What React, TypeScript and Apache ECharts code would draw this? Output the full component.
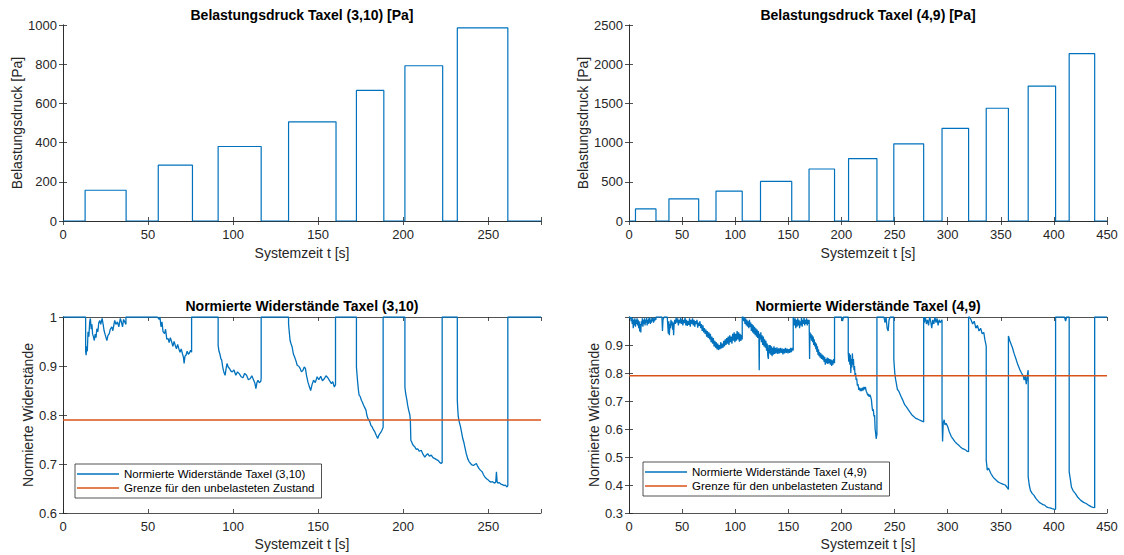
import React, { useEffect, useRef } from "react";
import * as echarts from "echarts";

// ---- Data ----
const pressure310Start = [13.0, 56.0, 91.2, 132.6, 172.5, 201.0, 231.8];
const pressure310End = [37.1, 76.1, 116.5, 160.5, 188.6, 223.2, 261.5];
const pressure310Value = [157, 285, 380, 506, 666, 792, 985];

const pressure49Start = [6.1, 37.6, 81.9, 123.8, 169.5, 206.7, 249.3, 294.7, 336.3, 375.8, 414.4];
const pressure49End = [25.4, 65.6, 106.6, 153.2, 193.5, 233.4, 277.4, 319.7, 357.2, 401.6, 438.4];
const pressure49Value = [154, 283, 381, 505, 663, 796, 985, 1182, 1438, 1721, 2136];

const threshold = 0.79;

const resist310: number[][] = [
  [0, 1],
  [13.3, 1], [13.3, 0.93], [13.6, 0.922], [13.9, 0.94], [14.3, 0.93], [14.7, 0.97], [15.2, 0.96], [15.7, 0.99], [16.1, 0.997], [16.6, 0.975], [17.0, 0.985], [17.4, 0.965], [17.9, 0.96], [18.4, 0.952], [18.9, 0.965], [19.4, 0.958], [19.9, 0.976], [20.5, 0.97], [21.0, 0.988], [21.6, 0.993], [22.2, 0.985], [23.0, 0.997], [23.6, 0.985], [24.1, 0.973], [24.7, 0.965], [25.3, 0.958], [25.8, 0.952], [26.4, 0.962], [27.2, 0.966], [27.8, 0.975], [28.7, 0.98], [29.3, 0.972], [30.4, 0.993], [31.1, 0.985], [32.0, 0.99], [32.8, 0.98], [33.7, 0.997], [34.3, 0.99], [35.0, 0.98], [35.6, 0.995], [36.3, 0.99], [37.0, 0.985], [37.0, 1],
  [55.5, 1], [56.5, 0.995], [57.0, 1], [57.6, 0.98], [58.2, 0.99], [58.8, 0.97], [59.7, 0.966], [60.3, 0.975], [61.0, 0.955], [61.8, 0.956], [62.4, 0.948], [63.1, 0.958], [63.9, 0.949], [64.6, 0.94], [65.3, 0.95], [66.0, 0.942], [66.7, 0.935], [67.4, 0.944], [68.1, 0.935], [68.8, 0.928], [69.5, 0.935], [70.2, 0.925], [70.8, 0.918], [71.2, 0.905], [71.7, 0.92], [72.3, 0.922], [73.0, 0.93], [73.7, 0.924], [74.4, 0.927], [75.0, 0.932], [75.6, 0.928], [75.6, 1],
  [91.2, 1], [91.2, 0.942], [91.7, 0.93], [92.2, 0.925], [92.8, 0.915], [93.3, 0.912], [93.8, 0.9], [94.3, 0.891], [94.8, 0.885], [95.3, 0.881], [95.9, 0.895], [96.4, 0.905], [97.1, 0.898], [97.9, 0.895], [98.6, 0.89], [99.5, 0.888], [100.5, 0.892], [101.6, 0.881], [102.6, 0.888], [103.7, 0.884], [104.7, 0.878], [105.8, 0.876], [106.8, 0.885], [107.9, 0.881], [109.0, 0.872], [110.0, 0.874], [111.0, 0.88], [112.1, 0.871], [112.8, 0.865], [113.4, 0.854], [114.0, 0.866], [114.6, 0.871], [115.4, 0.866], [116.3, 0.869], [116.5, 0.875], [116.5, 1],
  [132.6, 1], [132.6, 0.986], [133.0, 0.97], [133.5, 0.952], [134.1, 0.945], [134.7, 0.939], [135.4, 0.925], [136.2, 0.918], [137.0, 0.91], [137.7, 0.901], [138.5, 0.9], [139.4, 0.895], [140.2, 0.888], [141.0, 0.891], [141.8, 0.898], [142.5, 0.895], [143.2, 0.88], [144.0, 0.867], [144.8, 0.858], [145.6, 0.85], [146.4, 0.862], [147.3, 0.871], [148.3, 0.866], [149.4, 0.878], [150.4, 0.872], [151.5, 0.879], [152.5, 0.87], [153.6, 0.874], [154.6, 0.88], [155.7, 0.876], [156.7, 0.87], [157.8, 0.864], [158.6, 0.868], [159.5, 0.857], [160.2, 0.862], [160.2, 1],
  [172.5, 1], [172.5, 0.898], [172.9, 0.88], [173.3, 0.864], [173.7, 0.85], [174.1, 0.84], [174.7, 0.838], [175.4, 0.83], [176.0, 0.826], [176.7, 0.82], [177.4, 0.815], [178.1, 0.81], [178.6, 0.8], [179.2, 0.793], [179.8, 0.79], [180.4, 0.786], [181.0, 0.779], [181.7, 0.776], [182.5, 0.77], [183.4, 0.765], [184.2, 0.758], [185.0, 0.752], [185.6, 0.758], [186.3, 0.762], [186.9, 0.765], [187.5, 0.769], [188.2, 0.775], [188.2, 1],
  [201.0, 1], [201.0, 0.857], [201.4, 0.845], [201.8, 0.837], [202.2, 0.83], [202.6, 0.82], [203.2, 0.81], [203.9, 0.8], [204.2, 0.79], [204.5, 0.748], [205.0, 0.745], [205.4, 0.741], [206.1, 0.737], [206.8, 0.735], [207.6, 0.73], [208.5, 0.731], [209.5, 0.726], [210.6, 0.728], [211.6, 0.72], [212.7, 0.714], [213.5, 0.718], [214.4, 0.721], [215.4, 0.716], [216.5, 0.718], [217.5, 0.713], [218.6, 0.711], [219.6, 0.709], [220.7, 0.707], [221.5, 0.703], [222.3, 0.701], [222.9, 0.703], [222.9, 1],
  [231.8, 1], [231.8, 0.83], [232.1, 0.81], [232.4, 0.796], [233.0, 0.785], [233.7, 0.776], [234.3, 0.765], [235.0, 0.752], [235.6, 0.745], [236.2, 0.735], [237.0, 0.722], [237.9, 0.711], [238.7, 0.705], [239.6, 0.701], [240.4, 0.698], [241.3, 0.697], [242.1, 0.699], [243.0, 0.701], [243.8, 0.695], [244.7, 0.69], [245.5, 0.687], [246.4, 0.684], [247.2, 0.678], [248.1, 0.673], [249.0, 0.67], [249.8, 0.668], [250.6, 0.665], [251.5, 0.663], [252.5, 0.664], [253.6, 0.661], [254.4, 0.663], [254.8, 0.684], [255.2, 0.664], [255.7, 0.661], [256.5, 0.662], [257.4, 0.659], [258.3, 0.658], [259.2, 0.656], [260.1, 0.657], [261.0, 0.653], [261.5, 0.656], [261.5, 1],
  [281, 1],
];

const resist49: number[][] = [
  [0, 1], [1, 0.995], [1.5, 1], [2, 0.985], [2.5, 1], [3, 0.975], [3.5, 0.995], [4, 0.96], [4.5, 0.99], [5, 0.97], [5.5, 0.995], [6.1, 0.965], [6.6, 0.99], [7.1, 0.975], [7.6, 0.995], [8.1, 0.97], [8.6, 0.99], [9.1, 0.96], [9.6, 0.985], [10.1, 0.948], [10.6, 0.975], [11.1, 0.945], [11.6, 0.985], [12.1, 0.97], [12.6, 0.995], [13.1, 0.965], [13.6, 0.99], [14.1, 0.975], [14.6, 0.995], [15.1, 0.97], [15.6, 0.99], [16.1, 0.98], [16.6, 0.998], [17.1, 0.97], [17.6, 0.99], [18.1, 0.975], [18.6, 0.995], [19.1, 0.98], [19.6, 0.998], [20.1, 0.975], [20.6, 0.99], [21.1, 0.98], [21.6, 0.998], [22.1, 0.985], [22.6, 0.998], [23.1, 0.98], [23.6, 0.995], [24.1, 0.985], [24.6, 0.998], [25.4, 0.99], [25.4, 1],
  [31, 1], [31.5, 0.95], [32, 0.99], [33, 1], [36, 1], [36.5, 0.97], [37, 0.94], [37.5, 0.985], [38, 0.935], [38.5, 0.975], [39, 0.96], [39.5, 0.99], [40, 0.97], [40.5, 0.985], [41, 0.955], [41.5, 0.98], [42, 0.935], [42.5, 0.975], [43, 0.99], [43.7, 0.975], [44.4, 0.998], [45.1, 0.98], [45.8, 0.995], [46.5, 0.97], [47.2, 0.99], [47.9, 0.978], [48.6, 0.998], [49.3, 0.975], [50, 0.992], [50.7, 0.97], [51.4, 0.99], [52.1, 0.978], [52.8, 0.998], [53.5, 0.97], [54.2, 0.99], [54.9, 0.968], [55.6, 0.985], [56.3, 0.972], [57, 0.995], [57.7, 0.965], [58.4, 0.99], [59.1, 0.975], [59.8, 0.995], [60.5, 0.97], [61.2, 0.99], [61.9, 0.965], [62.6, 0.985], [63.3, 0.975], [64, 0.99], [64.7, 0.962], [65.4, 0.98], [66.1, 0.968], [66.8, 0.985], [67.5, 0.96], [68.2, 0.975], [68.9, 0.95], [69.6, 0.97], [70.3, 0.945], [71, 0.96], [71.7, 0.94], [72.4, 0.955], [73.1, 0.93], [73.8, 0.95], [74.5, 0.925], [75.2, 0.945], [75.9, 0.92], [76.6, 0.94], [77.3, 0.91], [78, 0.93], [78.7, 0.905], [79.4, 0.925], [80.1, 0.895], [80.8, 0.915], [81.5, 0.89], [82.2, 0.91], [82.9, 0.884], [83.6, 0.905], [84.3, 0.882], [85, 0.9], [85.7, 0.885], [86.4, 0.91], [87.1, 0.888], [87.8, 0.905], [88.5, 0.89], [89.2, 0.915], [89.9, 0.895], [90.6, 0.92], [91.3, 0.9], [92, 0.925], [92.7, 0.905], [93.4, 0.93], [94.1, 0.9], [94.8, 0.935], [95.5, 0.91], [96.2, 0.93], [96.9, 0.905], [97.6, 0.94], [98.3, 0.915], [99, 0.945], [99.7, 0.91], [100.4, 0.94], [101.1, 0.915], [101.8, 0.95], [102.5, 0.92], [103.2, 0.945], [103.9, 0.912], [104.6, 0.94], [105.3, 0.915], [106, 0.935], [106.6, 0.92], [106.6, 1],
  [107.5, 1], [108, 0.985], [108.6, 1], [109.2, 0.975], [109.8, 0.995], [110.4, 0.97], [111, 0.99], [111.6, 0.965], [112.2, 0.985], [112.8, 0.96], [113.4, 0.99], [114, 0.965], [114.6, 0.98], [115.2, 0.95], [115.8, 0.975], [116.4, 0.945], [117, 0.97], [117.6, 0.94], [118.2, 0.965], [118.8, 0.935], [119.4, 0.96], [120, 0.93], [120.6, 0.955], [121.2, 0.925], [121.8, 0.95], [122.3, 0.93], [122.6, 0.81], [122.9, 0.94], [123.5, 0.92], [124.1, 0.945], [124.7, 0.91], [125.3, 0.935], [125.9, 0.9], [126.5, 0.93], [127.1, 0.895], [127.7, 0.92], [128.3, 0.89], [128.9, 0.915], [129.5, 0.88], [130.1, 0.905], [130.7, 0.86], [131.2, 0.85], [131.7, 0.9], [132.3, 0.87], [132.9, 0.9], [133.5, 0.865], [134.1, 0.895], [134.7, 0.86], [135.3, 0.89], [135.9, 0.865], [136.5, 0.895], [137.1, 0.868], [137.7, 0.89], [138.5, 0.87], [139.3, 0.892], [140.1, 0.868], [140.9, 0.888], [141.7, 0.87], [142.5, 0.89], [143.3, 0.872], [144.1, 0.888], [144.9, 0.866], [145.7, 0.886], [146.5, 0.87], [147.3, 0.89], [148.1, 0.872], [148.9, 0.887], [149.7, 0.87], [150.5, 0.885], [151.3, 0.872], [152.1, 0.89], [152.9, 0.875], [153.7, 0.89], [154.6, 0.88], [154.6, 1],
  [155.2, 0.99], [155.8, 0.97], [156.4, 0.995], [157, 0.96], [157.6, 0.99], [158.2, 0.965], [158.8, 0.995], [159.4, 0.97], [160, 0.99], [160.6, 0.96], [161.2, 0.985], [161.8, 0.97], [162.4, 0.998], [163, 0.965], [163.6, 0.99], [164.2, 0.975], [164.8, 0.998], [165.4, 0.97], [166, 0.99], [166.6, 0.975], [167.2, 0.995], [167.8, 0.97], [168.4, 0.99], [169, 0.975], [169.6, 0.99], [170, 0.85], [170.4, 0.945], [170.9, 0.925], [171.4, 0.94], [171.9, 0.915], [172.4, 0.935], [172.9, 0.91], [173.4, 0.93], [173.9, 0.9], [174.4, 0.92], [174.9, 0.895], [175.4, 0.91], [175.9, 0.885], [176.4, 0.905], [176.9, 0.875], [177.4, 0.895], [177.9, 0.865], [178.4, 0.885], [178.9, 0.86], [179.4, 0.875], [180, 0.855], [180.6, 0.87], [181.2, 0.85], [181.8, 0.866], [182.4, 0.848], [183, 0.862], [183.6, 0.84], [184.2, 0.858], [184.8, 0.83], [185.4, 0.85], [186, 0.835], [186.6, 0.855], [187.2, 0.832], [187.8, 0.852], [188.4, 0.835], [189, 0.85], [189.6, 0.83], [190.2, 0.848], [190.8, 0.825], [191.4, 0.845], [192, 0.83], [192.6, 0.85], [193.5, 0.835], [193.5, 1],
  [200, 1], [201, 0.985], [202, 1], [206.4, 1], [206.4, 0.872], [206.9, 0.84], [207.4, 0.87], [207.9, 0.83], [208.4, 0.865], [208.8, 0.8], [209.3, 0.85], [209.8, 0.82], [210.3, 0.87], [210.8, 0.83], [211.3, 0.85], [211.8, 0.81], [212.3, 0.825], [212.8, 0.79], [213.3, 0.8], [213.8, 0.775], [214.4, 0.78], [215, 0.755], [215.6, 0.76], [216.3, 0.74], [217, 0.748], [217.7, 0.735], [218.4, 0.745], [219.1, 0.735], [219.8, 0.748], [220.5, 0.738], [221.2, 0.75], [221.9, 0.742], [222.6, 0.75], [223.3, 0.735], [224, 0.73], [224.7, 0.72], [225.4, 0.725], [226.1, 0.715], [226.8, 0.722], [227.5, 0.715], [228.2, 0.705], [228.8, 0.68], [229.4, 0.665], [230, 0.67], [230.6, 0.645], [231.2, 0.65], [231.7, 0.6], [232.2, 0.585], [232.7, 0.565], [233.1, 0.575], [233.4, 0.58], [233.4, 1],
  [240, 1], [241, 0.98], [242, 1], [243, 0.96], [244, 0.95], [244.8, 0.99], [246, 1], [249.3, 1], [249.3, 0.849], [250.2, 0.8], [251, 0.777], [251.8, 0.76], [252.7, 0.741], [254, 0.735], [256, 0.717], [257.5, 0.705], [259.5, 0.687], [261, 0.68], [262.9, 0.669], [264.5, 0.66], [266.2, 0.651], [268, 0.645], [269.6, 0.639], [271.3, 0.636], [273, 0.633], [274.7, 0.63], [276.4, 0.627], [277.4, 0.625], [277.4, 1],
  [278, 0.98], [279, 1], [280, 0.975], [281, 0.99], [282, 0.97], [283, 1], [284, 0.985], [285, 0.96], [286, 0.99], [287, 0.975], [288, 1], [289, 0.98], [290, 0.995], [291, 0.97], [292, 0.99], [293, 0.98], [294.7, 0.99], [294.7, 0.645], [295.2, 0.555], [295.8, 0.62], [296.7, 0.633], [297.5, 0.615], [298.5, 0.62], [300, 0.609], [301.5, 0.59], [303.4, 0.573], [305, 0.565], [306.8, 0.555], [308.5, 0.548], [310.2, 0.543], [312, 0.536], [313.6, 0.531], [315.3, 0.528], [317, 0.525], [318.5, 0.52], [319.7, 0.519], [319.7, 1],
  [320.5, 1], [322, 0.99], [323.5, 0.975], [325, 0.985], [326.5, 0.96], [328, 0.97], [329.5, 0.95], [331, 0.96], [332.5, 0.94], [334, 0.945], [335, 0.92], [336.3, 0.896], [336.3, 0.489], [337.3, 0.453], [338.5, 0.46], [340.7, 0.441], [342.5, 0.43], [344, 0.423], [345.5, 0.418], [347.4, 0.411], [349, 0.408], [350.8, 0.405], [352.5, 0.402], [354.2, 0.4], [355.8, 0.392], [357.2, 0.384], [357.2, 0.932], [358.5, 0.915], [360, 0.9], [361, 0.89], [362.5, 0.87], [364.4, 0.849], [366, 0.83], [367.8, 0.813], [369.5, 0.8], [371.2, 0.789], [372, 0.775], [373, 0.79], [374, 0.76], [374.5, 0.777], [375.3, 0.8], [375.8, 0.81], [375.8, 0.429], [376.8, 0.4], [377.9, 0.381], [379.5, 0.37], [381.3, 0.363], [383, 0.352], [384.6, 0.345], [386.3, 0.338], [388, 0.334], [389.7, 0.33], [391.4, 0.328], [393, 0.322], [394.8, 0.319], [396.5, 0.318], [398.2, 0.316], [400, 0.314], [401.6, 0.313], [401.6, 1],
  [410, 1], [411, 0.985], [412, 1], [414.4, 1], [414.4, 0.447], [415.5, 0.42], [416.5, 0.393], [418, 0.38], [420.3, 0.369], [422.5, 0.356], [425.3, 0.345], [428, 0.338], [430.4, 0.334], [433, 0.327], [435.4, 0.322], [437, 0.32], [438.4, 0.319], [438.4, 1], [450, 1],
];

const titles = [
  "Belastungsdruck Taxel (3,10) [Pa]",
  "Belastungsdruck Taxel (4,9) [Pa]",
  "Normierte Widerstände Taxel (3,10)",
  "Normierte Widerstände Taxel (4,9)",
];
const xName = "Systemzeit t [s]";
const yNames = ["Belastungsdruck [Pa]", "Belastungsdruck [Pa]", "Normierte Widerstände", "Normierte Widerstände"];
const seriesNames = ["Normierte Widerstände Taxel (3,10)", "Normierte Widerstände Taxel (4,9)", "Grenze für den unbelasteten Zustand"];

// ---- Helpers ----
function stepPoints(starts: number[], ends: number[], vals: number[], xmax: number) {
  const pts: number[][] = [[0, 0]];
  for (let i = 0; i < starts.length; i++) {
    pts.push([starts[i], 0], [starts[i], vals[i]], [ends[i], vals[i]], [ends[i], 0]);
  }
  pts.push([xmax, 0]);
  return pts;
}

const BLUE = "#0072BD";
const ORANGE = "#D95319";
const AX = "#262626";
const FONT = "'Liberation Sans', Arial, Helvetica, sans-serif";

export default function App() {
  const ref = useRef<HTMLDivElement>(null);
  useEffect(() => {
    if (!ref.current) return;
    const chart = echarts.init(ref.current, undefined, { renderer: "svg" });

    const grids = [
      { left: 63, top: 25, width: 478, height: 196 },
      { left: 629, top: 25, width: 478, height: 196 },
      { left: 63, top: 317, width: 478, height: 196 },
      { left: 629, top: 317, width: 478, height: 196 },
    ];
    const xCfg = [{ max: 281 }, { max: 450 }, { max: 281 }, { max: 450 }];
    const xGap = [25, 25, 24, 24];
    const yCfg = [
      { min: 0, max: 1000, interval: 200, fmt: (v: number) => String(v), gap: 38 },
      { min: 0, max: 2500, interval: 500, fmt: (v: number) => String(v), gap: 37 },
      { min: 0.6, max: 1, interval: 0.1, fmt: (v: number) => (Math.abs(v - 1) < 1e-6 ? "1" : v.toFixed(1)), gap: 26 },
      { min: 0.3, max: 1, interval: 0.1, fmt: (v: number) => (v > 0.999 ? "" : v.toFixed(1)), gap: 25 },
    ];

    const axisLine = { show: true, lineStyle: { color: AX, width: 0.8 } };
    const axisTick = { show: true, inside: true, length: 4, lineStyle: { color: AX, width: 0.8 } };

    const xAxis: any[] = [];
    const yAxis: any[] = [];
    grids.forEach((_, i) => {
      xAxis.push({
        type: "value", gridIndex: i, position: "bottom", min: 0, max: xCfg[i].max, interval: 50,
        axisLine, axisTick, splitLine: { show: false },
        axisLabel: { color: AX, fontSize: 13, fontFamily: FONT, margin: 7, formatter: (v: number) => (v % 50 === 0 ? String(v) : "") },
        name: xName, nameLocation: "middle", nameGap: xGap[i],
        nameTextStyle: { color: AX, fontSize: 14, fontFamily: FONT },
      });
      xAxis.push({
        type: "value", gridIndex: i, position: "top", min: 0, max: xCfg[i].max, interval: 50,
        axisLine, axisTick, splitLine: { show: false }, axisLabel: { show: false },
      });
      yAxis.push({
        type: "value", gridIndex: i, position: "left", min: yCfg[i].min, max: yCfg[i].max, interval: yCfg[i].interval,
        axisLine, axisTick, splitLine: { show: false },
        axisLabel: { color: AX, fontSize: 13, fontFamily: FONT, margin: 6, formatter: yCfg[i].fmt },
        name: yNames[i], nameLocation: "middle", nameGap: yCfg[i].gap,
        nameTextStyle: { color: AX, fontSize: 14, fontFamily: FONT },
      });
      yAxis.push({
        type: "value", gridIndex: i, position: "right", min: yCfg[i].min, max: yCfg[i].max, interval: yCfg[i].interval,
        axisLine, axisTick, splitLine: { show: false }, axisLabel: { show: false },
      });
    });

    const titleCenters = [
      { x: 302, y: 8 },
      { x: 868, y: 8 },
      { x: 302, y: 299 },
      { x: 868, y: 299 },
    ];

    const legendCommon = {
      orient: "vertical",
      backgroundColor: "#ffffff",
      borderColor: AX,
      borderWidth: 0.8,
      borderRadius: 0,
      padding: [4, 7, 4, 2],
      itemGap: 2,
      itemWidth: 42,
      itemHeight: 1.5,
      icon: "rect",
      textStyle: { color: "#000", fontSize: 11.5, fontFamily: FONT },
      selectedMode: false,
    };

    const option: any = {
      animation: false,
      backgroundColor: "#ffffff",
      textStyle: { fontFamily: FONT },
      title: titles.map((t, i) => ({
        text: t,
        left: titleCenters[i].x,
        top: titleCenters[i].y,
        textAlign: "center",
        padding: 0,
        textStyle: { color: "#000", fontSize: 14, fontWeight: "bold", fontFamily: FONT },
      })),
      grid: grids,
      xAxis,
      yAxis,
      legend: [
        { ...legendCommon, left: 75, top: 464, data: [seriesNames[0], seriesNames[2]] },
        { ...legendCommon, left: 643, top: 462, data: [seriesNames[1], seriesNames[2]] },
      ],
      series: [
        {
          type: "line", xAxisIndex: 0, yAxisIndex: 0, name: "p310",
          data: stepPoints(pressure310Start, pressure310End, pressure310Value, 281),
          symbol: "none", lineStyle: { color: BLUE, width: 1.2 }, itemStyle: { color: BLUE },
        },
        {
          type: "line", xAxisIndex: 2, yAxisIndex: 2, name: "p49",
          data: stepPoints(pressure49Start, pressure49End, pressure49Value, 450),
          symbol: "none", lineStyle: { color: BLUE, width: 1.2 }, itemStyle: { color: BLUE },
        },
        {
          type: "line", xAxisIndex: 4, yAxisIndex: 4, name: seriesNames[0],
          data: resist310, symbol: "none", lineStyle: { color: BLUE, width: 1.3 }, itemStyle: { color: BLUE },
        },
        {
          type: "line", xAxisIndex: 4, yAxisIndex: 4, name: seriesNames[2],
          data: [[0, threshold], [281, threshold]], symbol: "none",
          lineStyle: { color: ORANGE, width: 1.5 }, itemStyle: { color: ORANGE },
        },
        {
          type: "line", xAxisIndex: 6, yAxisIndex: 6, name: seriesNames[1],
          data: resist49, symbol: "none", lineStyle: { color: BLUE, width: 1.3 }, itemStyle: { color: BLUE },
        },
        {
          type: "line", xAxisIndex: 6, yAxisIndex: 6, name: seriesNames[2],
          data: [[0, threshold], [450, threshold]], symbol: "none",
          lineStyle: { color: ORANGE, width: 1.5 }, itemStyle: { color: ORANGE },
        },
      ],
    };
    chart.setOption(option);
    return () => chart.dispose();
  }, []);

  return (
    <div
      ref={ref}
      style={{ position: "absolute", left: 0, top: 0, width: 1124, height: 555, background: "#fff" }}
    />
  );
}
